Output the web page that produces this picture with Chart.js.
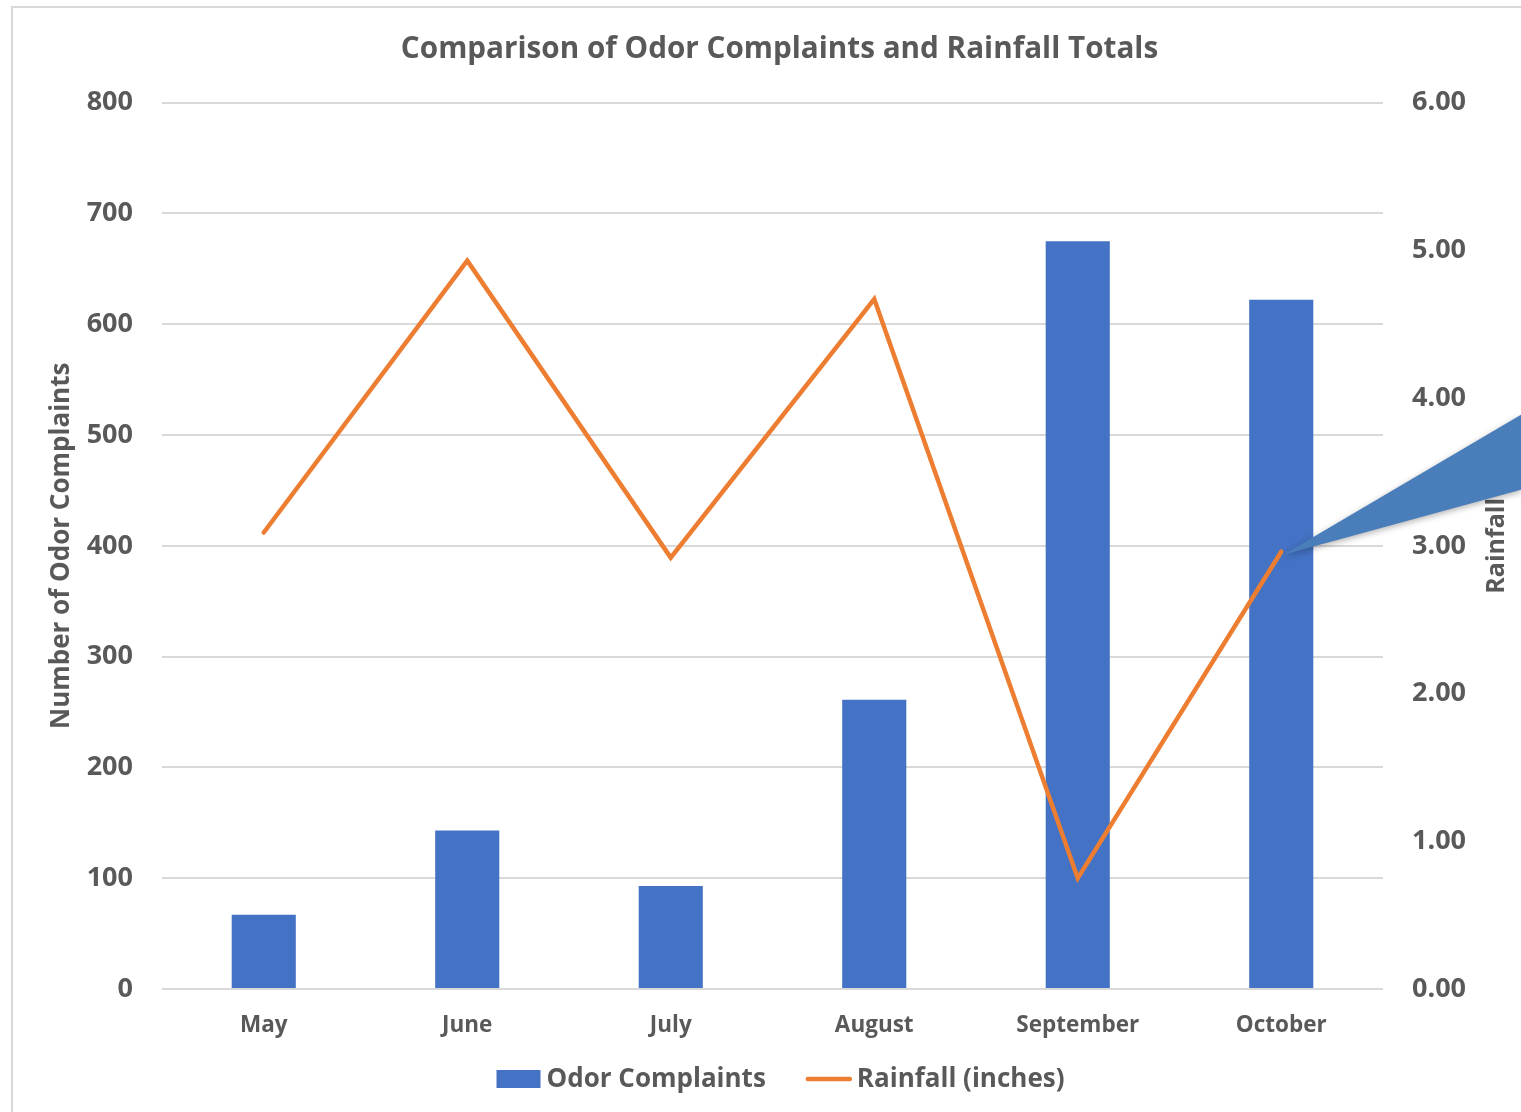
<!DOCTYPE html>
<html>
<head>
<meta charset="utf-8">
<title>Odor Complaints and Rainfall</title>
<script src="https://cdn.jsdelivr.net/npm/chart.js@4.4.0/dist/chart.umd.min.js"></script>
<style>
    html, body { margin: 0; padding: 0; background: #fff; }
    #wrap { width: 1521px; height: 1112px; position: relative; }
</style>
</head>
<body>
<div id="wrap"><canvas id="rainChart"></canvas></div>
<script>
    // Chart data
    const months = ['May', 'June', 'July', 'August', 'September', 'October'];
    const complaints = [67, 143, 93, 261, 675, 622];
    const rainfall = [3.09, 4.93, 2.92, 4.67, 0.75, 2.96];
    const complaintTicks = [0, 100, 200, 300, 400, 500, 600, 700, 800];
    const rainTicks = [0, 1, 2, 3, 4, 5, 6];

    const textColor = '#595959';
    const gridColor = '#d9d9d9';
    const fontFamily = "'Open Sans', sans-serif";
    Chart.defaults.font.family = fontFamily;
    Chart.defaults.color = textColor;

    // Outer frame, legend, right axis title and the callout wedge
    const extras = {
        id: 'extras',
        beforeDraw(chart) {
            const ctx = chart.ctx;
            ctx.save();
            ctx.strokeStyle = gridColor;
            ctx.lineWidth = 2;
            ctx.strokeRect(12, 7, chart.width + 20, chart.height + 20);
            ctx.restore();
        },
        afterDraw(chart) {
            const ctx = chart.ctx;
            const y1 = chart.scales.y1;
            const area = chart.chartArea;

            // right axis title, reading bottom to top
            ctx.save();
            ctx.font = 'bold 25px ' + fontFamily;
            ctx.fillStyle = textColor;
            ctx.textAlign = 'center';
            ctx.textBaseline = 'middle';
            ctx.translate(y1.right - 24, (area.top + area.bottom) / 2);
            ctx.rotate(-Math.PI / 2);
            ctx.fillText('Rainfall', 0, 0);
            ctx.restore();

            // legend: box for bars, short stroke for the line
            const sets = chart.data.datasets;
            const keyW = 44, keyGap = 6, itemGap = 41;
            const legendY = chart.height - 33;
            ctx.save();
            ctx.font = 'bold 26px ' + fontFamily;
            ctx.textBaseline = 'middle';
            ctx.textAlign = 'left';
            let total = 0;
            sets.forEach((ds, i) => {
                total += keyW + keyGap + ctx.measureText(ds.label).width;
                if (i < sets.length - 1) total += itemGap;
            });
            const padLeft = chart.options.layout.padding.left;
            let x = (padLeft + chart.width) / 2 - total / 2 + 1;
            sets.forEach(ds => {
                if (ds.type === 'bar') {
                    ctx.fillStyle = ds.backgroundColor;
                    ctx.fillRect(x, legendY - 9, keyW, 18);
                } else {
                    ctx.strokeStyle = ds.borderColor;
                    ctx.lineWidth = ds.borderWidth;
                    ctx.lineCap = 'round';
                    ctx.beginPath();
                    ctx.moveTo(x + 1, legendY);
                    ctx.lineTo(x + keyW - 1, legendY);
                    ctx.stroke();
                }
                x += keyW + keyGap;
                ctx.fillStyle = textColor;
                ctx.fillText(ds.label, x, legendY + 1);
                x += ctx.measureText(ds.label).width + itemGap;
            });
            ctx.restore();

            // callout pointer anchored on the last rainfall point
            const meta = chart.getDatasetMeta(1);
            const pt = meta.data[meta.data.length - 1];
            ctx.save();
            ctx.fillStyle = '#4a7ebb';
            ctx.shadowColor = 'rgba(0,0,0,0.3)';
            ctx.shadowBlur = 6;
            ctx.shadowOffsetY = 2;
            ctx.beginPath();
            ctx.moveTo(pt.x + 2, pt.y + 3);
            ctx.lineTo(chart.width, pt.y - 137);
            ctx.lineTo(chart.width, pt.y - 62);
            ctx.closePath();
            ctx.fill();
            ctx.restore();
        }
    };

    const ctx = document.getElementById('rainChart').getContext('2d');
    new Chart(ctx, {
        data: {
            labels: months,
            datasets: [{
                type: 'bar',
                label: 'Odor Complaints',
                data: complaints,
                backgroundColor: '#4472c4',
                borderWidth: 0,
                categoryPercentage: 1,
                barPercentage: 0.315,
                yAxisID: 'y',
                order: 2
            }, {
                type: 'line',
                label: 'Rainfall (inches)',
                data: rainfall,
                borderColor: '#ed7d31',
                backgroundColor: '#ed7d31',
                borderWidth: 4.5,
                borderCapStyle: 'round',
                pointRadius: 0,
                tension: 0,
                yAxisID: 'y1',
                order: 1
            }]
        },
        options: {
            responsive: true,
            maintainAspectRatio: false,
            animation: false,
            layout: { padding: { left: 38, right: 0, top: 0, bottom: 71 } },
            plugins: {
                title: {
                    display: true,
                    text: 'Comparison of Odor Complaints and Rainfall Totals',
                    color: textColor,
                    font: { size: 29.7, weight: 'bold' },
                    padding: { top: 32, bottom: 35 }
                },
                legend: { display: false },
                tooltip: { enabled: false }
            },
            scales: {
                x: {
                    grid: { display: false },
                    border: { display: false },
                    ticks: { padding: 15, font: { size: 22.5, weight: 'bold' } },
                    afterFit(scale) { scale.height = 52; }
                },
                y: {
                    position: 'left',
                    min: complaintTicks[0],
                    max: complaintTicks[complaintTicks.length - 1],
                    ticks: {
                        stepSize: complaintTicks[1] - complaintTicks[0],
                        padding: 29,
                        font: { size: 27, weight: 'bold' }
                    },
                    grid: { color: gridColor, lineWidth: 2, drawTicks: false },
                    border: { display: false },
                    title: {
                        display: true,
                        text: 'Number of Odor Complaints',
                        color: textColor,
                        font: { size: 26, weight: 'bold' },
                        padding: { top: 8, bottom: 0 }
                    },
                    afterFit(scale) { scale.width = 124; }
                },
                y1: {
                    position: 'right',
                    min: rainTicks[0],
                    max: rainTicks[rainTicks.length - 1],
                    ticks: {
                        stepSize: rainTicks[1] - rainTicks[0],
                        padding: 29,
                        font: { size: 27, weight: 'bold' },
                        callback: value => value.toFixed(2)
                    },
                    grid: { display: false, drawTicks: false },
                    border: { display: false },
                    afterFit(scale) { scale.width = 138; }
                }
            }
        },
        plugins: [extras]
    });
</script>
</body>
</html>
